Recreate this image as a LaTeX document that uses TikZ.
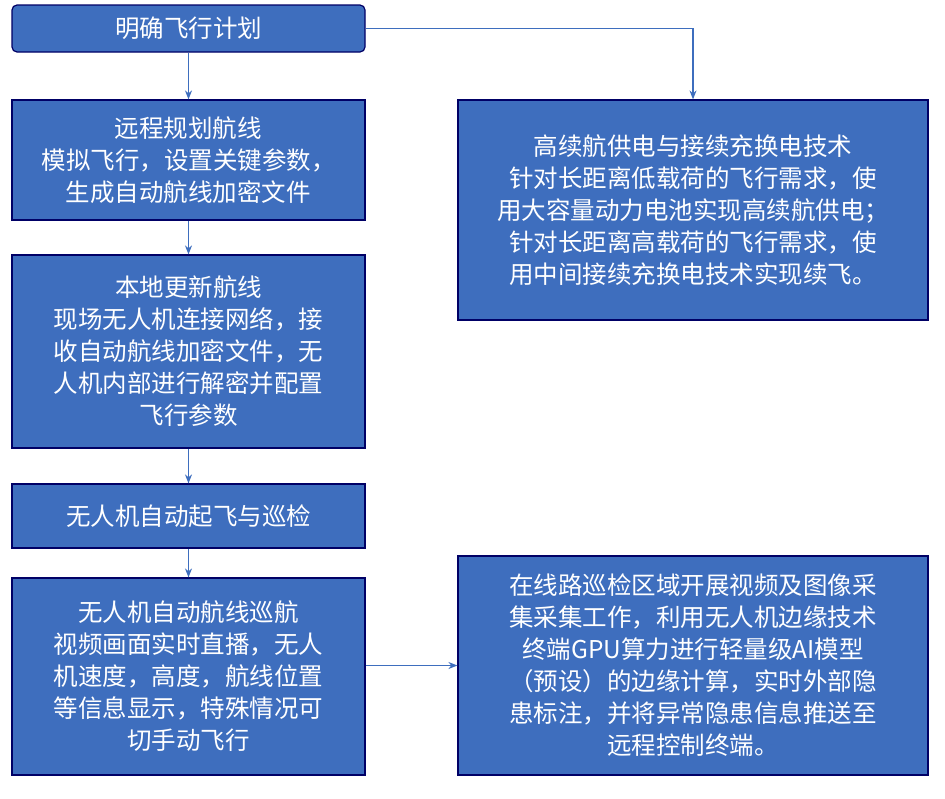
\documentclass[tikz,border=0pt]{standalone}
\usepackage{fontspec}
\newfontfamily\cjk{Noto Sans CJK SC}
\usetikzlibrary{arrows.meta}
\begin{document}
\begin{tikzpicture}[x=1pt,y=-1pt,
  box/.style={draw=blue!40!black,line width=1.2pt,fill={rgb,255:red,62;green,110;blue,190},text=white,font=\cjk\fontsize{24.5}{32}\selectfont,align=center,inner sep=0pt},
  conn/.style={draw={rgb,255:red,62;green,110;blue,190},line width=1.2pt,-{Stealth[length=9pt,width=7pt]}}]
\useasboundingbox[fill=white] (0,0) rectangle (945,798);
\node[box,rounded corners=5pt,minimum width=353pt,minimum height=47pt] (a) at (188.5,28.5) {明确飞行计划};
\node[box,minimum width=353pt,minimum height=120pt] (b) at (188.5,160) {远程规划航线\\模拟飞行，设置关键参数，\\生成自动航线加密文件};
\node[box,minimum width=353pt,minimum height=193pt] (c) at (188.5,351.5) {本地更新航线\\现场无人机连接网络，接\\收自动航线加密文件，无\\人机内部进行解密并配置\\飞行参数};
\node[box,minimum width=353pt,minimum height=64pt] (d) at (188.5,516) {无人机自动起飞与巡检};
\node[box,minimum width=353pt,minimum height=197pt] (e) at (188.5,676.5) {无人机自动航线巡航\\视频画面实时直播，无人\\机速度，高度，航线位置\\等信息显示，特殊情况可\\切手动飞行};
\node[box,minimum width=470pt,minimum height=220pt] (f) at (693,210) {高续航供电与接续充换电技术\\针对长距离低载荷的飞行需求，使\\用大容量动力电池实现高续航供电；\\针对长距离高载荷的飞行需求，使\\用中间接续充换电技术实现续飞。};
\node[box,minimum width=470pt,minimum height=219pt] (g) at (693,665.5) {在线路巡检区域开展视频及图像采\\集采集工作，利用无人机边缘技术\\终端GPU算力进行轻量级AI模型\\（预设）的边缘计算，实时外部隐\\患标注，并将异常隐患信息推送至\\远程控制终端。};
\draw[conn] (a.south) -- (b.north);
\draw[conn] (b.south) -- (c.north);
\draw[conn] (c.south) -- (d.north);
\draw[conn] (d.south) -- (e.north);
\draw[conn] (a.east) -| (f.north);
\draw[conn] (g.west -| e.east) -- (g.west);
\end{tikzpicture}
\end{document}
